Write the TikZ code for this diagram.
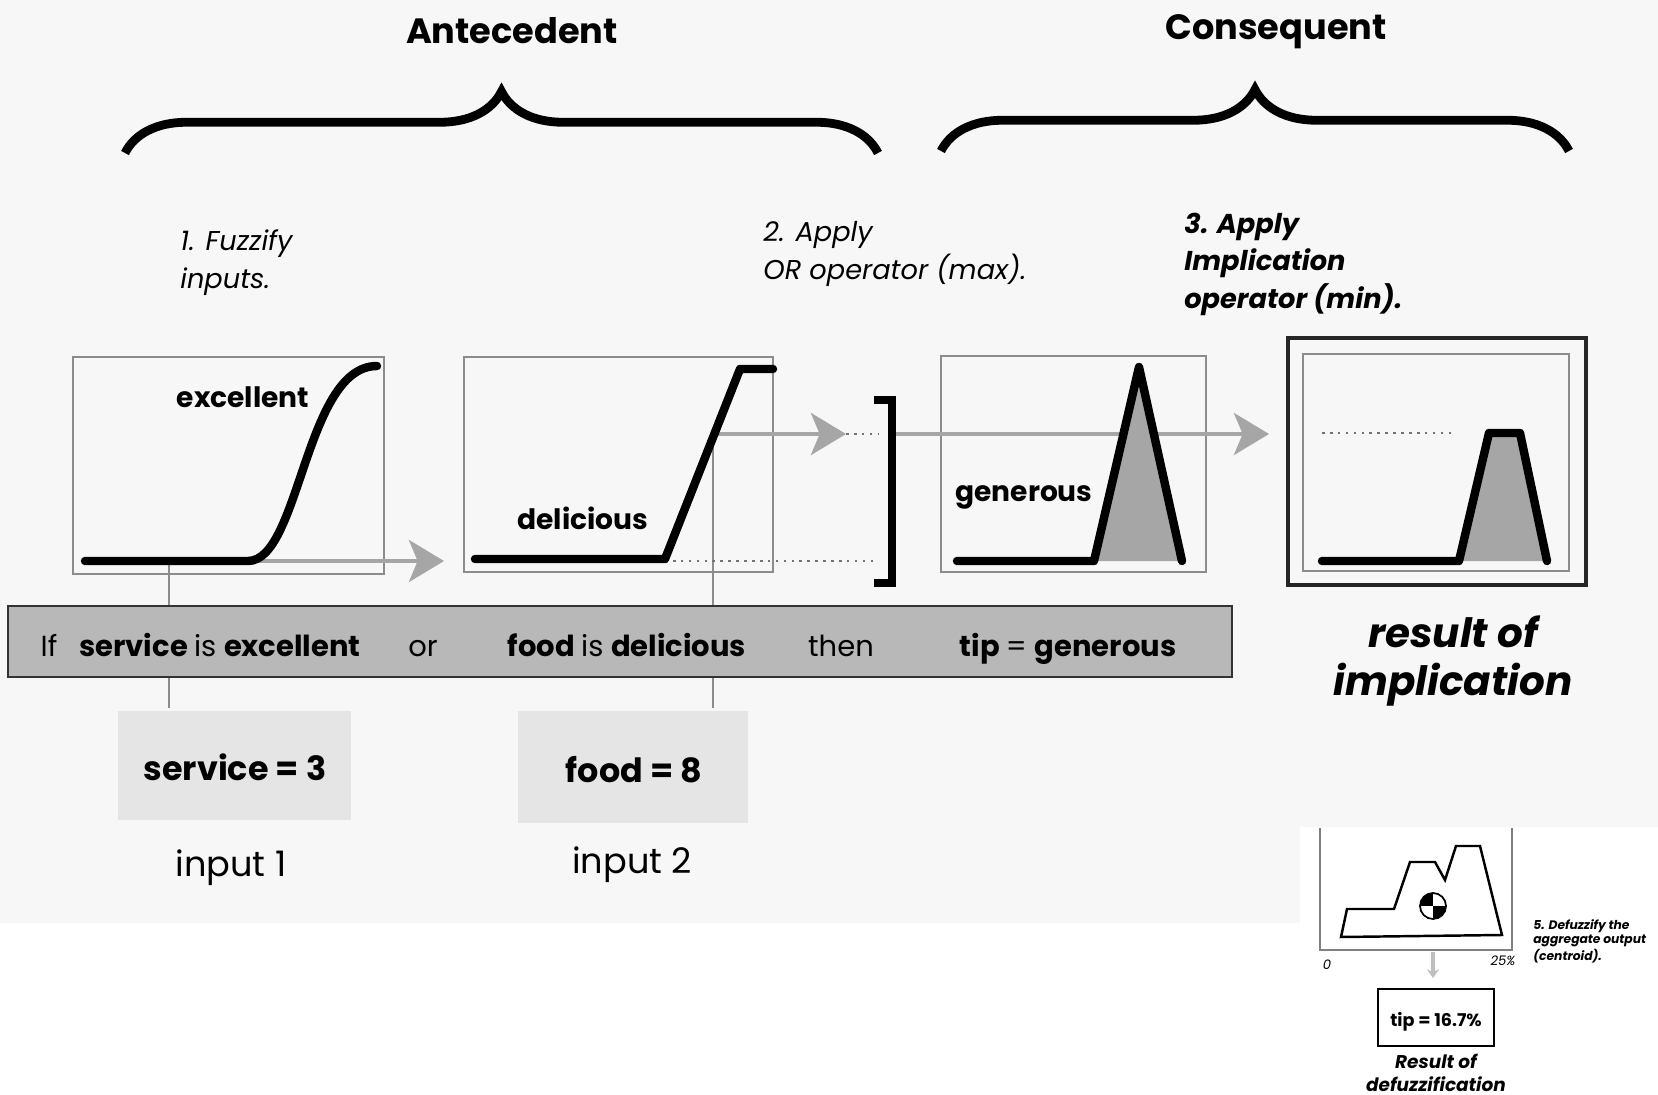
\documentclass[tikz,border=0pt]{standalone}
\usepackage{fontspec}
\setmainfont{Poppins}
\usetikzlibrary{arrows.meta,decorations.pathreplacing,positioning}

\newcommand\fsz[2]{\fontsize{#1}{#2}\selectfont}

\tikzset{
  frame/.style={draw=black!45, line width=0.8pt},
  mf/.style={line width=4.8pt, line cap=round, line join=round},
  feed/.style={draw=black!35, line width=1.8pt, -{Stealth[length=20pt,width=24pt,inset=5pt]}},
  guide/.style={draw=black!55, line width=1.5pt, dash pattern=on 1.5pt off 3pt},
  stem/.style={draw=black!45, line width=0.8pt},
  bigbrace/.style={decorate, decoration={brace, amplitude=35pt}, line width=5pt},
  title/.style={font=\bfseries\fsz{20}{24}, anchor=base, inner sep=0pt},
  stepnote/.style={font=\itshape\fsz{15.5}{21.5}, align=left, anchor=base west, inner sep=0pt},
  stepbold/.style={stepnote, font=\bfseries\itshape\fsz{15.5}{21.3}},
  mfname/.style={font=\bfseries\fsz{16}{19}, anchor=base, inner sep=0pt},
  ruletext/.style={font=\fsz{16.5}{19}, anchor=base, inner sep=0pt},
}

\begin{document}
\begin{tikzpicture}[x=0.02cm, y=-0.02cm]
  \useasboundingbox (0,0) rectangle (1658,1095);
  % Paper
  \fill[black!3] (0,0) -- (1658,0) -- (1658,827) -- (1300,827) -- (1300,923) -- (0,923) -- cycle;

  % Titles and braces
  \node[title] (ante) at (512,44) {Antecedent};
  \node[title] (cons) at (1276,40) {Consequent};
  \draw[bigbrace] (125,153) -- (878,153);
  \draw[bigbrace] (941,151) -- (1569,151);

  % Steps (anchored at the last line)
  \node[stepnote] (fuzz) at (180,288) {1. Fuzzify\\inputs.};
  \node[stepnote] (orop) at (763,279) {2. Apply\\OR operator (max).};
  \node[stepbold] (impl) at (1184,308) {3. Apply\\Implication\\operator (min).};

  % Boxes
  \draw[frame] (73,357) rectangle (384,574);
  \draw[frame] (464,357) rectangle (773,572);
  \draw[frame] (941,356) rectangle (1206,572);
  \draw[draw=black!85, line width=1.8pt] (1288,338) rectangle (1586,585);
  \draw[frame] (1303,354) rectangle (1569,571);

  % Points on the curves
  \coordinate (s1) at (169,561);
  \coordinate (s1end) at (169,708);
  \coordinate (a1) at (254,561);
  \coordinate (a1tip) at (444,561);
  \coordinate (d1) at (665,561);
  \coordinate (d1end) at (878,561);
  \coordinate (f2) at (713,434);
  \coordinate (f2end) at (713,708);
  \coordinate (a2tip) at (846,434);
  \coordinate (br) at (878,434);
  \coordinate (a3) at (894,434);
  \coordinate (a3tip) at (1269,434);
  \coordinate (c1) at (1322,433);
  \coordinate (c1end) at (1454,433);

  % Guide lines and arrows
  \draw[stem] (s1) -- (s1end);
  \draw[stem] (f2) -- (f2end);
  \draw[feed] (a1) -- (a1tip);
  \draw[guide] (d1) -- (d1end);
  \draw[feed] (f2) -- (a2tip);
  \draw[guide] (a2tip) -- (br);
  \draw[feed] (a3) -- (a3tip);
  \draw[guide] (c1) -- (c1end);

  % Bracket
  \draw[line width=4.5pt] (874,400) -- (892,400) -- (892,583) -- (874,583);

  % Membership functions
  \draw[mf] (85,561) -- (248,561) .. controls (300,561) and (305,366) .. (377,366);
  \draw[mf] (475,559) -- (665,559) -- (740,369) -- (773,369);
  \fill[black!35] (1094,561) -- (1139,367) -- (1182,561) -- cycle;
  \draw[mf] (957,561) -- (1094,561) -- (1139,367) -- (1182,561);
  \fill[black!35] (1459,561) -- (1489,433) -- (1520,433) -- (1547,561) -- cycle;
  \draw[mf] (1322,561) -- (1459,561) -- (1489,433) -- (1520,433) -- (1547,561);

  \node[mfname] (excl) at (243,407) {excellent};
  \node[mfname] (deli) at (583,529) {delicious};
  \node[mfname] (gene) at (1024,501) {generous};

  % Rule bar
  \draw[fill=black!28, draw=black!80, line width=1.5pt] (8,606) rectangle (1232,677);
  \node[ruletext] (if) at (49,656) {If};
  \node[ruletext] (serv) at (220,656) {\bfseries service \mdseries is \bfseries excellent};
  \node[ruletext] (or) at (423,656) {or};
  \node[ruletext] (food) at (627,656) {\bfseries food \mdseries is \bfseries delicious};
  \node[ruletext] (then) at (841,656) {then};
  \node[ruletext] (tip) at (1068,656) {\bfseries tip \mdseries = \bfseries generous};

  % Inputs
  \fill[black!10] (118,711) rectangle (351,820);
  \fill[black!10] (518,711) rectangle (748,823);
  \node[mfname, font=\bfseries\fsz{19}{22}] (in1) at (235,780) {service = 3};
  \node[mfname, font=\bfseries\fsz{19}{22}] (in2) at (634,782) {food = 8};
  \node[ruletext, font=\fsz{20}{24}] (lab1) at (231,876) {input 1};
  \node[ruletext, font=\fsz{20}{24}] (lab2) at (632,873) {input 2};

  % Result of implication
  \node[font=\bfseries\itshape\fsz{23}{27}, align=center, anchor=base, inner sep=0pt] (res) at (1453,695) {result of\\implication};

  % Defuzzification
  \draw[black!50, line width=0.6pt] (1320,828) -- (1320,950) -- (1512,950) -- (1512,828);
  \draw[line width=1.4pt, line join=miter] (1341,937) -- (1347,909) -- (1394,909) -- (1410,862) -- (1435,862)
    -- (1445,880) -- (1456,846) -- (1480,846) -- (1502,935) -- cycle;
  \coordinate (cg) at (1433,906);
  \fill[white] (cg) circle[radius=13];
  \begin{scope}
    \clip (cg) circle[radius=13];
    \fill (cg) rectangle (1419,892);
    \fill (cg) rectangle (1447,920);
  \end{scope}
  \draw[line width=1pt] (cg) circle[radius=13];
  \coordinate (cgfoot) at (1433,952);
  \coordinate (cgout) at (1433,978);
  \draw[black!25, line width=2pt, -{Stealth[length=5pt,width=7pt]}] (cgfoot) -- (cgout);
  \node[font=\itshape\fsz{7.5}{9}, anchor=base, inner sep=0pt] (zero) at (1327,969) {0};
  \node[font=\itshape\fsz{7.5}{9}, anchor=base, inner sep=0pt] (top) at (1503,965) {25\%};
  \node[font=\bfseries\itshape\fsz{7}{8.1}, align=left, anchor=base west, inner sep=0pt] (defz) at (1533,960)
    {5. Defuzzify the\\aggregate output\\(centroid).};
  \draw[line width=0.8pt] (1378,989) rectangle (1494,1046);
  \node[font=\bfseries\fsz{10}{12}, anchor=base, inner sep=0pt] (out) at (1436,1026) {tip = 16.7\%};
  \node[font=\bfseries\itshape\fsz{10.5}{13}, align=center, anchor=base, inner sep=0pt] (resd) at (1436,1091)
    {Result of\\defuzzification};
\end{tikzpicture}
\end{document}
